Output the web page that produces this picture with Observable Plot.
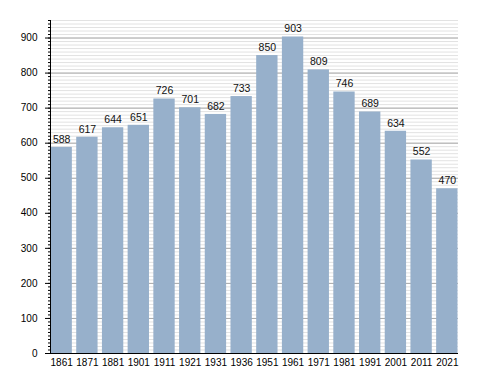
<!DOCTYPE html>
<html>
<head>
<meta charset="utf-8">
<script src="https://cdn.jsdelivr.net/npm/d3@7"></script>
<script src="https://cdn.jsdelivr.net/npm/@observablehq/plot@0.6"></script>
<style>
  html, body { margin: 0; padding: 0; background: #fff; }
</style>
</head>
<body>
<div id="chart"></div>
<script>
const years = ["1861","1871","1881","1901","1911","1921","1931","1936","1951","1961","1971","1981","1991","2001","2011","2021"];
const population = [588, 617, 644, 651, 726, 701, 682, 733, 850, 903, 809, 746, 689, 634, 552, 470];
const majorTicks = [0, 100, 200, 300, 400, 500, 600, 700, 800, 900];
const yMax = 950;

const data = years.map((y, i) => ({year: y, value: population[i]}));
const minorTicks = d3.range(0, yMax + 1, 10);

const chart = Plot.plot({
  width: 488,
  height: 373,
  marginLeft: 50,
  marginRight: 30,
  marginTop: 20,
  marginBottom: 20,
  style: {fontFamily: "'Liberation Sans', Arial, sans-serif", fontSize: "10px", color: "#000", background: "#fff"},
  x: {domain: years, paddingInner: 0.17, paddingOuter: 0.02, round: false, label: null},
  y: {domain: [0, yMax], label: null},
  marks: [
    Plot.ruleY(minorTicks, {stroke: "#e2e2e2", strokeWidth: 1}),
    Plot.ruleY(majorTicks, {stroke: "#aaaaaa", strokeWidth: 1}),
    Plot.barY(data, {x: "year", y: "value", fill: "#97b0cb"}),
    Plot.text(data, {x: "year", y: "value", text: d => String(d.value), dy: -8, fontSize: 10.5, fill: "#111"}),
    Plot.axisY({ticks: minorTicks, tickSize: 2, text: null, stroke: "#000"}),
    Plot.axisY({ticks: majorTicks, tickSize: 5, tickPadding: 8, fontSize: 10, stroke: "#000", label: null}),
    Plot.axisX({tickSize: 0, tickPadding: 5, fontSize: 10, label: null}),
    Plot.frame({anchor: "left", stroke: "#000"}),
    Plot.ruleY([0], {stroke: "#000", strokeWidth: 1.2})
  ]
});
document.getElementById("chart").appendChild(chart);
</script>
</body>
</html>
